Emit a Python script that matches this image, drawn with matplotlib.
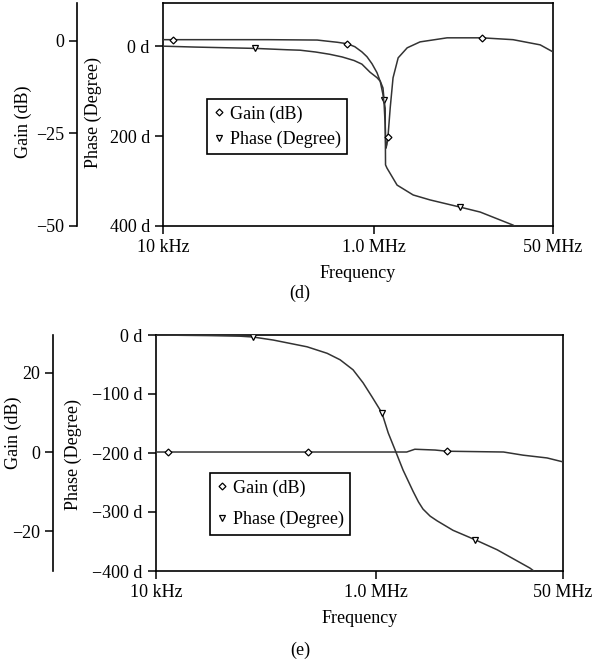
import matplotlib
matplotlib.use("Agg")
import matplotlib.pyplot as plt
from matplotlib.lines import Line2D
from matplotlib.ticker import NullLocator

plt.rcParams["font.family"] = ["Liberation Serif", "DejaVu Serif"]
plt.rcParams["font.size"] = 13

# ---- panel (d) ----
d_gain_freq = [1e4, 1.24e4, 1e5, 2.9e5, 3.6e5, 4.5e5, 5.6e5, 6.6e5, 7.7e5, 8.6e5,
               9.6e5, 1.07e6, 1.15e6, 1.22e6, 1.25e6, 1.28e6, 1.3e6, 1.33e6, 1.36e6,
               1.43e6, 1.52e6, 1.7e6, 2.07e6, 2.74e6, 4.95e6, 1.06e7, 2.09e7, 3.78e7,
               5e7]
d_gain = [0.3, 0.3, 0.3, 0.2, -0.1, -0.4, -0.8, -1.6, -3, -4.3,
          -6.2, -8.6, -11, -14.5, -17, -22.6, -29, -28, -26,
          -18, -10, -4.6, -1.9, -0.3, 0.8, 0.8, 0.3, -1.1,
          -3]
d_gain_marks = [1, 6, 18, 25]

d_phase_freq = [1e4, 2e4, 7.5e4, 1.5e5, 2e5, 2.8e5, 3.8e5, 5e5, 6.5e5, 7.7e5,
                9.2e5, 1.07e6, 1.15e6, 1.22e6, 1.25e6, 1.28e6, 1.29e6, 1.33e6,
                1.66e6, 2.36e6, 3.41e6, 6.58e6, 1.02e7, 2.09e7, 3e7]
d_phase = [0, -2, -5, -8, -9, -13, -18, -24, -32, -40,
           -58, -70, -78, -93, -120, -138, -264, -271,
           -309, -331, -342, -358, -369, -398, -420]
d_phase_marks = [2, 14, 21]

d_gain_ticks = [0, -25, -50]
d_phase_ticks = [0, -200, -400]
d_phase_labels = ["0 d", "200 d", "400 d"]

# ---- panel (e) ----
e_gain_freq = [1e4, 1.29e4, 2.4e5, 1e6, 1.9e6, 2.25e6, 3.44e6, 4.4e6, 1.44e7,
               2.17e7, 3.58e7, 5e7]
e_gain = [0, 0, 0, 0, 0, 0.7, 0.5, 0.2, 0, -0.8, -1.5, -2.5]
e_gain_marks = [1, 2, 7]

e_phase_freq = [1e4, 3e4, 5.8e4, 7.6e4, 1.16e5, 2.36e5, 3.59e5, 4.71e5, 6.18e5,
                7.62e5, 9.2e5, 1.13e6, 1.29e6, 1.49e6, 1.76e6, 2.17e6, 2.43e6,
                2.67e6, 3.1e6, 3.59e6, 5e6, 7.94e6, 1.26e7, 2.5e7, 3.2e7]
e_phase = [0, -1, -2, -3.4, -8.5, -20, -31, -42, -59,
           -81, -105, -132, -166, -195, -229, -265, -283,
           -295, -307, -315, -331, -347, -364, -395, -410]
e_phase_marks = [3, 11, 21]

e_gain_ticks = [20, 0, -20]
e_phase_ticks = [0, -100, -200, -300, -400]
e_phase_labels = ["0 d", "\u2212100 d", "\u2212200 d", "\u2212300 d", "\u2212400 d"]

x_ticks = [1e4, 1e6, 5e7]
x_labels = ["10 kHz", "1.0 MHz", "50 MHz"]

LINE = "#333333"
W, H = 602, 668


def panel(fig, box, gfreq, gain, gmarks, pfreq, phase, pmarks, glim, gticks,
          plim, pticks, plabels, goffset, leg_xy, leg_spacing):
    left, top, right, bottom = box
    ax = fig.add_axes([left / W, 1 - bottom / H, (right - left) / W, (bottom - top) / H])
    ax.set_xscale("log")
    ax.plot(pfreq, phase, color=LINE, lw=1.1, marker="v", markevery=pmarks,
            ms=4, mfc="white", mec="black", mew=0.9, zorder=3)
    ax.set_ylim(plim)
    ax.set_yticks(pticks)
    ax.set_yticklabels(plabels)
    for s in ax.spines.values():
        s.set_linewidth(1.2)
    ax.set_xlabel("Frequency", labelpad=6)

    gx = ax.twinx()
    gx.plot(gfreq, gain, color=LINE, lw=1.1, marker="D", markevery=gmarks,
            ms=3.5, mfc="white", mec="black", mew=0.9)
    gx.set_ylim(glim)
    gx.set_yticks(gticks)
    gx.yaxis.tick_left()
    gx.spines["left"].set_position(("axes", goffset))
    gx.spines["left"].set_visible(True)
    gx.spines["left"].set_linewidth(1.2)
    for k in ["right", "top", "bottom"]:
        gx.spines[k].set_visible(False)
    gx.tick_params(length=6, width=1.1, direction="out")
    gx.patch.set_visible(False)

    # x ticks set after twinx so the shared axis keeps them
    ax.set_xlim(1e4, 5e7)
    ax.set_xticks(x_ticks)
    ax.set_xticklabels(x_labels)
    ax.xaxis.set_minor_locator(NullLocator())
    ax.tick_params(length=6, width=1.1, direction="out")

    handles = [
        Line2D([], [], ls="none", marker="D", ms=3.5, mfc="white", mec="black", mew=0.9),
        Line2D([], [], ls="none", marker="v", ms=4, mfc="white", mec="black", mew=0.9),
    ]
    leg = fig.legend(handles, ["Gain (dB)", "Phase (Degree)"], loc="upper left",
                     bbox_to_anchor=(leg_xy[0] / W, 1 - leg_xy[1] / H),
                     handlelength=0.6, handletextpad=0.3, labelspacing=leg_spacing,
                     borderpad=0.35, fancybox=False, framealpha=1,
                     edgecolor="black", borderaxespad=0)
    leg.get_frame().set_linewidth(1.2)
    return ax, gx


fig = plt.figure(figsize=(W / 100, H / 100), dpi=100)

panel(fig, (163, 3, 553, 226), d_gain_freq, d_gain, d_gain_marks,
      d_phase_freq, d_phase, d_phase_marks, (-50, 10.2), d_gain_ticks,
      (-400, 96), d_phase_ticks, d_phase_labels, -0.22, (207, 99), 0.45)
fig.text(23 / W, 1 - 122 / H, "Gain (dB)", rotation=90, ha="center", va="center")
fig.text(93 / W, 1 - 113 / H, "Phase (Degree)", rotation=90, ha="center", va="center")
fig.text(300 / W, 1 - 293 / H, "(d)", ha="center", va="center")

panel(fig, (156, 335, 563, 571), e_gain_freq, e_gain, e_gain_marks,
      e_phase_freq, e_phase, e_phase_marks, (-30.1, 29.6), e_gain_ticks,
      (-400, 0), e_phase_ticks, e_phase_labels, -0.253, (210, 473), 0.8)
fig.text(13 / W, 1 - 433 / H, "Gain (dB)", rotation=90, ha="center", va="center")
fig.text(73 / W, 1 - 455 / H, "Phase (Degree)", rotation=90, ha="center", va="center")
fig.text(300 / W, 1 - 650 / H, "(e)", ha="center", va="center")

fig.savefig("out.png", dpi=100)
